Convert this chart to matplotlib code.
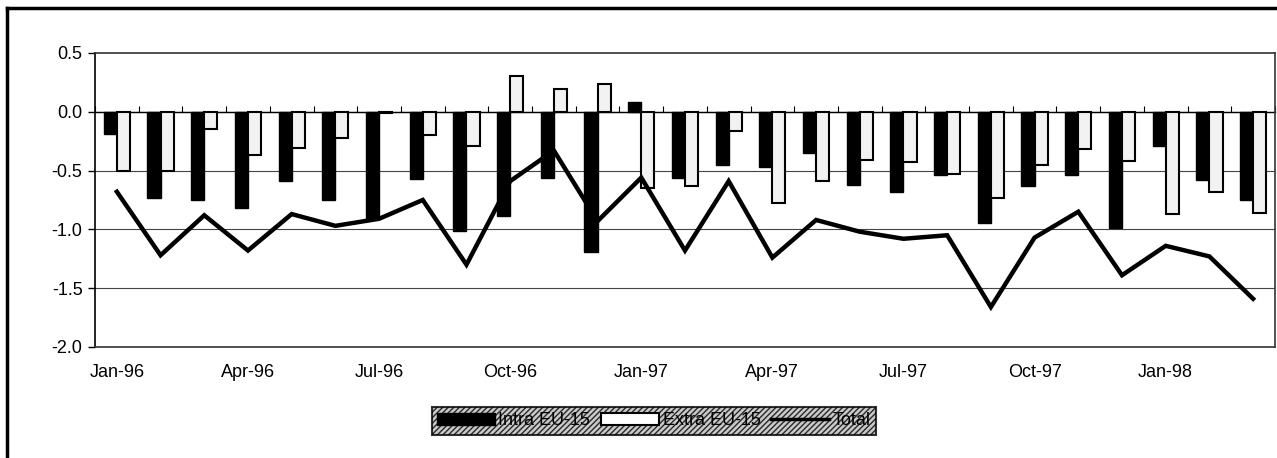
import numpy as np
import matplotlib
matplotlib.use("Agg")
import matplotlib.pyplot as plt
from matplotlib.patches import Patch
from matplotlib.lines import Line2D

plt.rcParams['font.family'] = ['Liberation Sans', 'DejaVu Sans']

# data (monthly, Jan-96 .. Mar-98)
months = ["Jan-96", "Feb-96", "Mar-96", "Apr-96", "May-96", "Jun-96", "Jul-96", "Aug-96", "Sep-96",
          "Oct-96", "Nov-96", "Dec-96", "Jan-97", "Feb-97", "Mar-97", "Apr-97", "May-97", "Jun-97",
          "Jul-97", "Aug-97", "Sep-97", "Oct-97", "Nov-97", "Dec-97", "Jan-98", "Feb-98", "Mar-98"]
intra = [-0.19, -0.73, -0.75, -0.82, -0.59, -0.75, -0.91, -0.57, -1.01, -0.89, -0.56, -1.19, 0.08, -0.56,
         -0.45, -0.47, -0.35, -0.62, -0.68, -0.54, -0.95, -0.63, -0.54, -0.99, -0.29, -0.58, -0.75]
extra = [-0.50, -0.50, -0.15, -0.37, -0.31, -0.22, -0.01, -0.20, -0.29, 0.30, 0.19, 0.24, -0.65, -0.63,
         -0.16, -0.78, -0.59, -0.41, -0.43, -0.53, -0.73, -0.45, -0.32, -0.42, -0.87, -0.68, -0.86]
total = [-0.68, -1.22, -0.88, -1.18, -0.87, -0.97, -0.91, -0.75, -1.30, -0.59, -0.33, -0.93, -0.56, -1.18,
         -0.59, -1.24, -0.92, -1.02, -1.08, -1.05, -1.66, -1.07, -0.85, -1.39, -1.14, -1.23, -1.59]
tick_every = 3
yticks = [0.5, 0.0, -0.5, -1.0, -1.5, -2.0]

x = np.arange(len(months))
w = 0.3

fig = plt.figure(figsize=(12.77, 4.58), dpi=100)
ax = fig.add_axes([0.0744, 0.2424, 0.9240, 0.6420])

for yv in yticks[1:-1]:
    ax.axhline(yv, color="#444444", linewidth=0.8, zorder=0)

ax.bar(x - w / 2, intra, width=w, color="black", edgecolor="black", linewidth=1, zorder=2)
ax.bar(x + w / 2, extra, width=w, color="#f2f2f2", edgecolor="black", linewidth=1.5, zorder=2)
ax.plot(x, total, color="black", linewidth=3.2, solid_joinstyle="miter", zorder=3)

ax.set_xlim(-0.5, len(months) - 0.5)
ax.set_ylim(-2.0, 0.5)
ax.set_yticks(yticks)
ax.set_yticklabels([f"{v:.1f}" for v in yticks], fontsize=13)
ax.tick_params(axis="y", length=5, width=1, pad=4)

ax.set_xticks(x[::tick_every])
ax.set_xticklabels(months[::tick_every], fontsize=13)
ax.tick_params(axis="x", length=0, pad=12)

# category ticks along the zero line
sec = ax.secondary_xaxis(0, transform=ax.transData)
sec.set_xticks(np.arange(len(months) + 1) - 0.5)
sec.set_xticklabels([])
sec.tick_params(axis="x", direction="in", length=4, width=0.8)
sec.spines["bottom"].set_linewidth(1)

ax.spines["left"].set_linewidth(1.2)
for s in ["top", "right", "bottom"]:
    ax.spines[s].set_linestyle((0, (1, 1)))
    ax.spines[s].set_color("#333333")
    ax.spines[s].set_linewidth(1.2)

handles = [Patch(facecolor="black", edgecolor="black"),
           Patch(facecolor="white", edgecolor="black", linewidth=1.5),
           Line2D([0], [0], color="black", linewidth=2.5)]
leg = fig.legend(handles, ["Intra EU-15", "Extra EU-15", "Total"], loc="center",
                 bbox_to_anchor=(0.512, 0.081), ncol=3, fontsize=13, frameon=True, fancybox=False,
                 handlelength=3.2, handletextpad=0.2, columnspacing=0.6, borderpad=0.3)
frame = leg.get_frame()
frame.set_facecolor("#bdbdbd")
frame.set_edgecolor("black")
frame.set_linewidth(1.5)
frame.set_hatch("//////")

# outer frame (left and top edges visible)
fig.add_artist(Line2D([7 / 1277, 7 / 1277], [0, 1 - 8 / 458], color="black", linewidth=2.5,
                      transform=fig.transFigure))
fig.add_artist(Line2D([7 / 1277, 1], [1 - 8 / 458, 1 - 8 / 458], color="black", linewidth=2.5,
                      transform=fig.transFigure))

fig.savefig("out.png", dpi=100)
plt.close(fig)
